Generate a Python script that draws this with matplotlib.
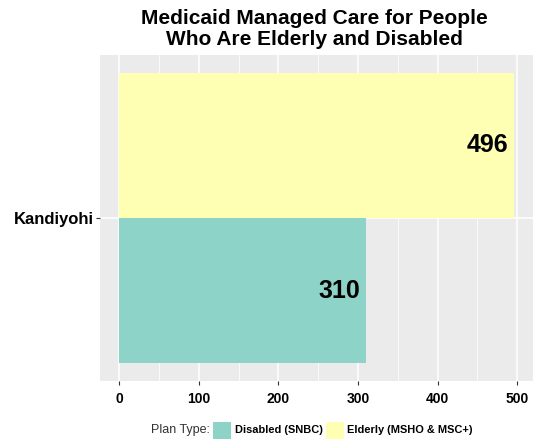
import matplotlib
matplotlib.use("Agg")
import matplotlib.pyplot as plt
from matplotlib.patches import Rectangle

plt.rcParams['font.family'] = ['Liberation Sans', 'DejaVu Sans']

county = "Kandiyohi"
plan_types = ["Disabled (SNBC)", "Elderly (MSHO & MSC+)"]
values = [310, 496]
colors = ["#8DD3C7", "#FFFFB3"]
x_ticks = [0, 100, 200, 300, 400, 500]
title = "Medicaid Managed Care for People\nWho Are Elderly and Disabled"

W, H = 533, 440
fig = plt.figure(figsize=(W / 100, H / 100), dpi=100)

# panel in pixel coordinates
pl, pr, pt, pb = 99.5, 533, 55, 381
ax = fig.add_axes([pl / W, 1 - pb / H, (pr - pl) / W, (pb - pt) / H])
ax.set_facecolor("#EBEBEB")
for s in ax.spines.values():
    s.set_visible(False)

xmin, xmax = -25, 520
ax.set_xlim(xmin, xmax)
ax.set_ylim(-0.6, 0.6)

# grid
for v in range(0, 550, 50):
    lw = 1.1 if v % 100 == 0 else 0.55
    ax.axvline(v, color="white", lw=lw, zorder=0)
ax.axhline(0, color="white", lw=1.1, zorder=0)

bar_h = 0.535
offsets = [-bar_h / 2, bar_h / 2]
for val, off, c in zip(values, offsets, colors):
    ax.barh(off, val, height=bar_h, color=c, zorder=2)
    ax.annotate(str(val), xy=(val, off), xytext=(-4, 0), textcoords="offset points",
                ha="right", va="center", fontsize=18, fontweight="bold", zorder=3)

ax.set_xticks(x_ticks)
ax.set_xticklabels([str(t) for t in x_ticks], fontsize=10, fontweight="bold")
ax.set_yticks([0])
ax.set_yticklabels([county], fontsize=12, fontweight="bold")
ax.tick_params(axis="both", colors="#333333", length=3, width=0.8, labelcolor="black")
ax.tick_params(axis="x", pad=5)
ax.tick_params(axis="y", pad=1)

fig.text(314 / W, 1 - 9 / H, title, ha="center", va="top", fontsize=15,
         fontweight="bold", linespacing=1.15)

# legend
ly = 1 - 430 / H
fig.text(210 / W, ly, "Plan Type:", ha="right", va="center", fontsize=9, color="#333333")
key_w, key_h = 18, 17
for (x0, tx, lab, c) in [(213, 235, plan_types[0], colors[0]), (326, 347, plan_types[1], colors[1])]:
    fig.patches.append(Rectangle((x0 / W, ly - key_h / 2 / H), key_w / W, key_h / H,
                                 transform=fig.transFigure, facecolor=c, edgecolor="none"))
    fig.text(tx / W, ly, lab, ha="left", va="center", fontsize=7.9, fontweight="bold")

fig.savefig("out.png", dpi=100, facecolor="white")
